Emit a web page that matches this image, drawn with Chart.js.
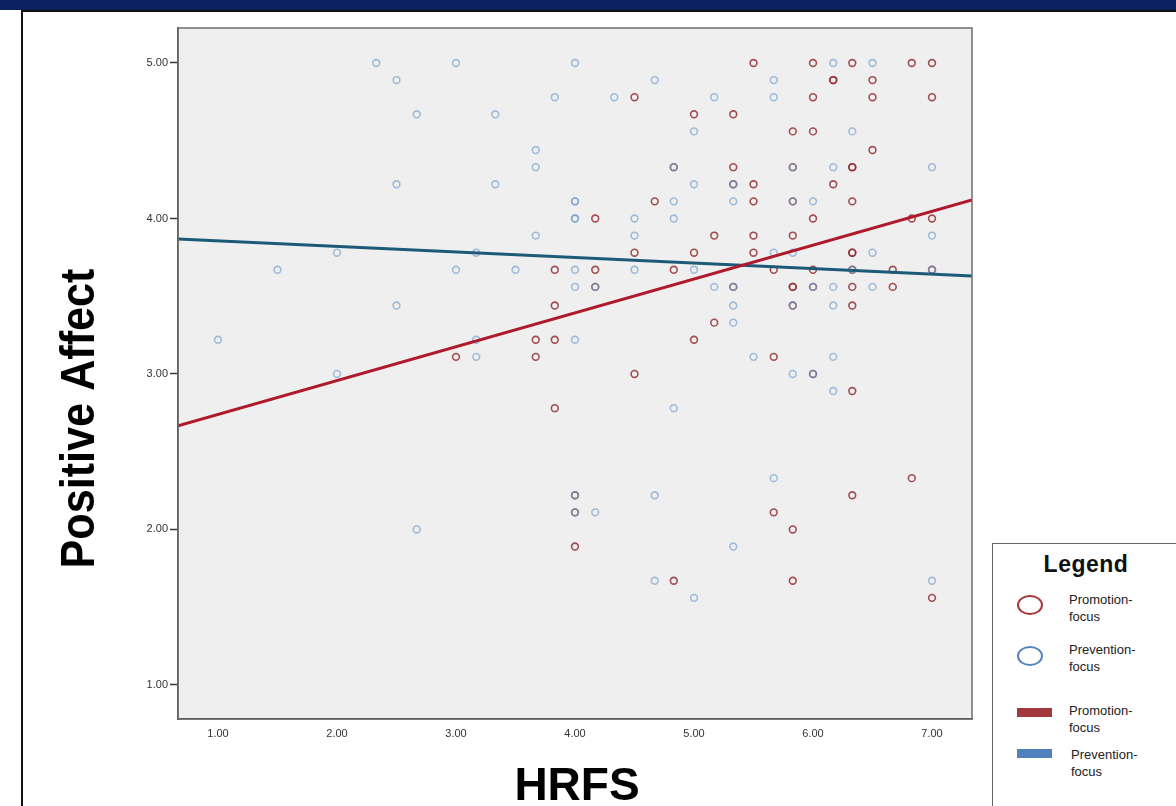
<!DOCTYPE html>
<html>
<head>
<meta charset="utf-8">
<title>Positive Affect by HRFS</title>
<script src="https://cdn.jsdelivr.net/npm/chart.js@4.4.1/dist/chart.umd.min.js"></script>
<style>
  body { margin: 0; background: #fff; font-family: "Liberation Sans", Arial, sans-serif; }
  #page { position: relative; width: 1176px; height: 806px; overflow: hidden; }
  #topbar { position: absolute; left: 0; top: 0; width: 1176px; height: 10px; background: #0b2160; }
  #frame { position: absolute; left: 21px; top: 10px; width: 1200px; height: 820px;
           border-left: 2px solid #111; border-top: 2px solid #111; }
  #chart { position: absolute; left: 0; top: 0; }
  #legend { position: absolute; left: 992px; top: 543px; width: 220px; height: 300px;
            border: 1px solid #666; background: #fff; }
  #legend .title { position: absolute; left: 0; width: 186px; top: 7px; text-align: center;
                   font-weight: bold; font-size: 23px; letter-spacing: 0.5px; color: #111; }
  #legend .mark { position: absolute; box-sizing: border-box; }
  #legend .text { position: absolute; font-size: 13px; line-height: 17px; color: #222; }
</style>
</head>
<body>
<div id="page">
  <div id="topbar"></div>
  <div id="frame"></div>
  <canvas id="chart" width="1176" height="806"></canvas>
  <div id="legend"><div class="title">Legend</div></div>
</div>
<script>
// HRFS (x) vs Positive Affect (y), one [x, y] pair per respondent
const promotionPoints = [
  [5.5, 5], [6, 5], [6.33, 5], [6.83, 5], [7, 5],
  [6.17, 4.89], [6.17, 4.89], [6.5, 4.89],
  [4.5, 4.78], [6, 4.78], [6.5, 4.78], [7, 4.78],
  [5, 4.67], [5.33, 4.67],
  [5.83, 4.56], [6, 4.56],
  [6.5, 4.44],
  [4.83, 4.33], [5.33, 4.33], [5.83, 4.33], [6.33, 4.33], [6.33, 4.33],
  [5.33, 4.22], [5.5, 4.22], [6.17, 4.22],
  [4.67, 4.11], [5.5, 4.11], [5.83, 4.11], [6.33, 4.11],
  [4.17, 4], [6, 4], [6.83, 4], [7, 4],
  [5.17, 3.89], [5.5, 3.89], [5.83, 3.89],
  [4.5, 3.78], [5, 3.78], [5.5, 3.78], [6.33, 3.78], [6.33, 3.78],
  [3.83, 3.67], [4.17, 3.67], [4.83, 3.67], [5.67, 3.67], [6, 3.67], [6.33, 3.67], [6.67, 3.67], [7, 3.67],
  [4.17, 3.56], [5.33, 3.56], [5.83, 3.56], [5.83, 3.56], [6, 3.56], [6.33, 3.56], [6.67, 3.56],
  [3.83, 3.44], [5.83, 3.44], [6.33, 3.44],
  [5.17, 3.33],
  [3.67, 3.22], [3.83, 3.22], [5, 3.22],
  [3, 3.11], [3.67, 3.11], [5.67, 3.11],
  [4.5, 3], [6, 3],
  [6.33, 2.89],
  [3.83, 2.78],
  [6.83, 2.33],
  [4, 2.22], [6.33, 2.22],
  [4, 2.11], [5.67, 2.11],
  [5.83, 2],
  [4, 1.89],
  [4.83, 1.67], [5.83, 1.67],
  [7, 1.56]
];

const preventionPoints = [
  [2.33, 5], [3, 5], [4, 5], [6.17, 5], [6.5, 5],
  [2.5, 4.89], [4.67, 4.89], [5.67, 4.89],
  [3.83, 4.78], [4.33, 4.78], [5.17, 4.78], [5.67, 4.78],
  [2.67, 4.67], [3.33, 4.67],
  [5, 4.56], [6.33, 4.56],
  [3.67, 4.44],
  [3.67, 4.33], [4.83, 4.33], [5.83, 4.33], [6.17, 4.33], [7, 4.33],
  [2.5, 4.22], [3.33, 4.22], [5, 4.22], [5.33, 4.22],
  [4, 4.11], [4, 4.11], [4.83, 4.11], [5.33, 4.11], [5.83, 4.11], [6, 4.11],
  [4, 4], [4, 4], [4.5, 4], [4.83, 4],
  [3.67, 3.89], [4.5, 3.89], [7, 3.89],
  [2, 3.78], [3.17, 3.78], [5.67, 3.78], [5.83, 3.78], [6.5, 3.78],
  [1.5, 3.67], [3, 3.67], [3.5, 3.67], [4, 3.67], [4.5, 3.67], [5, 3.67], [6.33, 3.67], [7, 3.67],
  [4, 3.56], [4.17, 3.56], [5.17, 3.56], [5.33, 3.56], [6, 3.56], [6.17, 3.56], [6.5, 3.56],
  [2.5, 3.44], [5.33, 3.44], [5.83, 3.44], [6.17, 3.44],
  [5.33, 3.33],
  [1, 3.22], [3.17, 3.22], [4, 3.22],
  [3.17, 3.11], [5.5, 3.11], [6.17, 3.11],
  [2, 3], [5.83, 3], [6, 3],
  [6.17, 2.89],
  [4.83, 2.78],
  [5.67, 2.33],
  [4, 2.22], [4.67, 2.22],
  [4, 2.11], [4.17, 2.11],
  [2.67, 2],
  [5.33, 1.89],
  [4.67, 1.67], [7, 1.67],
  [5, 1.56]
];

// fitted lines, value at each end of the x range
const promotionFit = [[0.664, 2.666], [7.336, 4.119]];
const preventionFit = [[0.664, 3.868], [7.336, 3.630]];

const xRange = [0.664, 7.336];
const yRange = [0.781, 5.225];
const xTicks = [1, 2, 3, 4, 5, 6, 7];
const xTickLabels = ['1.00', '2.00', '3.00', '4.00', '5.00', '6.00', '7.00'];
const yTicks = [1, 2, 3, 4, 5];
const yTickLabels = ['1.00', '2.00', '3.00', '4.00', '5.00'];

const seriesLabels = ['Promotion-focus', 'Prevention-focus'];
const xTitle = 'HRFS';
const yTitle = 'Positive Affect';

const FONT = '"Liberation Sans", Arial, sans-serif';

function toXY(pairs) {
  return pairs.map(function (p) { return { x: p[0], y: p[1] }; });
}

// grey plot background, frame and the two big axis titles
const plotFrame = {
  id: 'plotFrame',
  beforeDraw(chart) {
    const ctx = chart.ctx, a = chart.chartArea;
    ctx.save();
    ctx.fillStyle = '#efefef';
    ctx.fillRect(a.left, a.top, a.right - a.left, a.bottom - a.top);
    ctx.restore();
  },
  afterDraw(chart) {
    const ctx = chart.ctx, a = chart.chartArea;
    ctx.save();
    ctx.strokeStyle = '#6e6e6e';
    ctx.lineWidth = 1.5;
    ctx.strokeRect(a.left, a.top, a.right - a.left, a.bottom - a.top);

    ctx.fillStyle = '#000';
    ctx.textAlign = 'center';
    ctx.textBaseline = 'alphabetic';
    ctx.font = 'bold 46px ' + FONT;
    ctx.fillText(xTitle, (a.left + a.right) / 2 + 2, a.bottom + 81, 126);

    ctx.translate(a.left - 84, (a.top + a.bottom) / 2 + 45);
    ctx.rotate(-Math.PI / 2);
    ctx.font = 'bold 48px ' + FONT;
    ctx.fillText(yTitle, 0, 0, 300);
    ctx.restore();
  }
};

const ctx = document.getElementById('chart').getContext('2d');
const chart = new Chart(ctx, {
  type: 'scatter',
  data: {
    datasets: [
      {
        label: seriesLabels[0] + ' fit',
        data: toXY(promotionFit),
        showLine: true,
        pointRadius: 0,
        borderColor: '#ae1a2c',
        borderWidth: 3,
        order: 0
      },
      {
        label: seriesLabels[1] + ' fit',
        data: toXY(preventionFit),
        showLine: true,
        pointRadius: 0,
        borderColor: '#1d5a78',
        borderWidth: 3,
        order: 0
      },
      {
        label: seriesLabels[1],
        data: toXY(preventionPoints),
        pointRadius: 3.4,
        pointBorderWidth: 1.6,
        borderColor: 'rgba(110,155,205,0.62)',
        backgroundColor: 'rgba(0,0,0,0)',
        order: 1
      },
      {
        label: seriesLabels[0],
        data: toXY(promotionPoints),
        pointRadius: 3.4,
        pointBorderWidth: 1.6,
        borderColor: 'rgba(145,40,45,0.82)',
        backgroundColor: 'rgba(0,0,0,0)',
        order: 2
      }
    ]
  },
  options: {
    responsive: false,
    animation: false,
    devicePixelRatio: 1,
    layout: { padding: { left: 98, right: 204, top: 28, bottom: 47 } },
    plugins: {
      legend: { display: false },
      tooltip: { enabled: false }
    },
    scales: {
      x: {
        type: 'linear',
        min: xRange[0],
        max: xRange[1],
        afterBuildTicks: function (scale) {
          scale.ticks = xTicks.map(function (v) { return { value: v }; });
        },
        afterFit: function (scale) { scale.height = 40; },
        ticks: {
          callback: function (v, i) { return xTickLabels[i]; },
          font: { family: FONT, size: 11 },
          color: '#333',
          padding: 8,
          maxRotation: 0,
          autoSkip: false
        },
        grid: { drawOnChartArea: false, drawTicks: false },
        border: { display: true, color: '#3a3a3a', width: 1.5 }
      },
      y: {
        type: 'linear',
        min: yRange[0],
        max: yRange[1],
        afterBuildTicks: function (scale) {
          scale.ticks = yTicks.map(function (v) { return { value: v }; });
        },
        afterFit: function (scale) { scale.width = 80; },
        ticks: {
          callback: function (v, i) { return yTickLabels[i]; },
          font: { family: FONT, size: 11 },
          color: '#333',
          padding: 2
        },
        grid: { drawOnChartArea: false, drawTicks: true, tickLength: 8, color: '#3a3a3a', tickWidth: 1.5 },
        border: { display: true, color: '#3a3a3a', width: 1.5 }
      }
    }
  },
  plugins: [plotFrame]
});

// legend box on the right, built from the series labels
var legendItems = [
  { kind: 'circle', color: '#a8363b', label: seriesLabels[0], top: 51, textTop: 47, textLeft: 76 },
  { kind: 'circle', color: '#5683bf', label: seriesLabels[1], top: 102, textTop: 97, textLeft: 76 },
  { kind: 'bar', color: '#a2383d', label: seriesLabels[0], top: 164, textTop: 158, textLeft: 76 },
  { kind: 'bar', color: '#4f81bd', label: seriesLabels[1], top: 205, textTop: 202, textLeft: 78 }
];
var box = document.getElementById('legend');
legendItems.forEach(function (it) {
  var m = document.createElement('div');
  m.className = 'mark';
  if (it.kind === 'circle') {
    m.style.cssText = 'left:24px;top:' + it.top + 'px;width:26px;height:20px;border:2px solid ' + it.color + ';border-radius:50%;';
  } else {
    m.style.cssText = 'left:24px;top:' + it.top + 'px;width:35px;height:9px;background:' + it.color + ';';
  }
  box.appendChild(m);
  var t = document.createElement('div');
  t.className = 'text';
  t.style.left = it.textLeft + 'px';
  t.style.top = it.textTop + 'px';
  var parts = it.label.split('-');
  t.innerHTML = parts[0] + '-<br>' + parts[1];
  box.appendChild(t);
});
</script>
</body>
</html>
